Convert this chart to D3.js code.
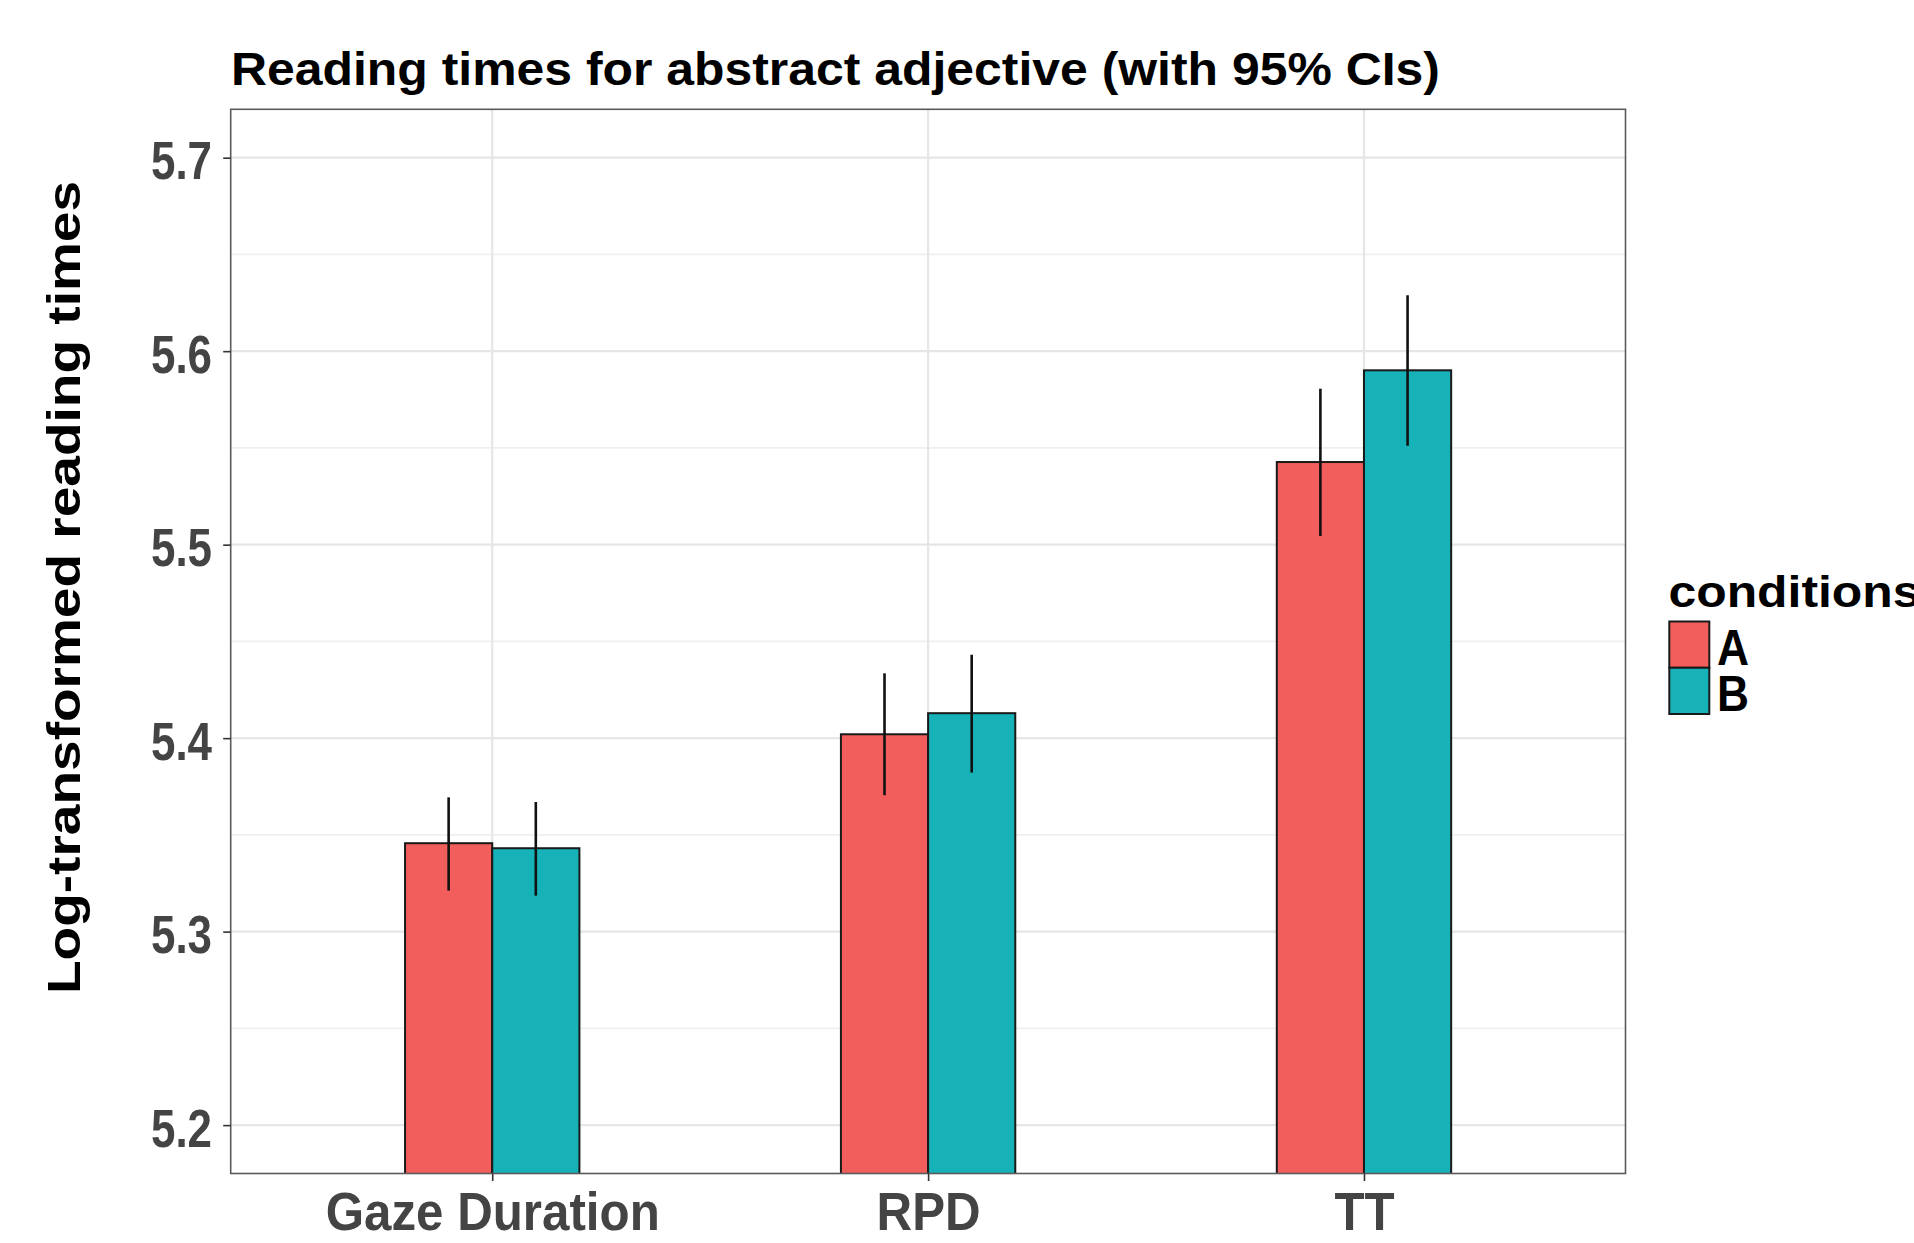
<!DOCTYPE html>
<html>
<head>
<meta charset="utf-8">
<script src="https://cdn.jsdelivr.net/npm/d3@7"></script>
<style>
  html, body { margin: 0; padding: 0; background: #fff; }
  svg { display: block; }
</style>
</head>
<body>
<svg id="chart" width="1914" height="1243"></svg>
<script>
// ---- data ----
const categories = ["Gaze Duration", "RPD", "TT"];
const conditions = ["A", "B"];
const meansA = [5.3457, 5.4020, 5.5427];
const meansB = [5.3431, 5.4129, 5.5901];
const lowerA = [5.3212, 5.3705, 5.5045];
const upperA = [5.3694, 5.4335, 5.5806];
const lowerB = [5.3186, 5.3822, 5.5511];
const upperB = [5.3670, 5.4431, 5.6289];
const yTicks = [5.2, 5.3, 5.4, 5.5, 5.6, 5.7];
const yMinorTicks = [5.25, 5.35, 5.45, 5.55, 5.65];
const titleText = "Reading times for abstract adjective (with 95% CIs)";
const yTitleText = "Log-transformed reading times";
const legendTitleText = "conditions";
const colors = ["#F25E5B", "#17B2B7"];

// ---- layout ----
const FONT = "'Liberation Sans', Arial, Helvetica, sans-serif";
const panel = { left: 230.7, right: 1625.5, top: 109.3, bottom: 1173.5 };
const svg = d3.select("#chart");

const x = d3.scalePoint().domain(categories).range([panel.left, panel.right]).padding(0.6);
const step = x.step();
const xInner = d3.scaleBand().domain(conditions).range([-0.2 * step, 0.2 * step]).padding(0);
const y = d3.scaleLinear().domain([5.175, 5.725]).range([panel.bottom, panel.top]);

// text fitting helpers (canvas measurements)
const ctx = document.createElement("canvas").getContext("2d");
function metrics(str, size) {
  ctx.font = `bold ${size}px ${FONT}`;
  return ctx.measureText(str);
}
const capRatio = metrics("H", 100).actualBoundingBoxAscent / 100;
const xRatio = metrics("x", 100).actualBoundingBoxAscent / 100;
function fitCap(str, capH, width) {
  const F = capH / capRatio;
  const w = metrics(str, F).width;
  return { F, sx: width / w };
}

const data = [];
categories.forEach((c, i) => {
  data.push({ cat: c, cond: "A", v: meansA[i], lo: lowerA[i], hi: upperA[i], col: colors[0] });
  data.push({ cat: c, cond: "B", v: meansB[i], lo: lowerB[i], hi: upperB[i], col: colors[1] });
});

// ---- panel background & grid ----
svg.append("rect").attr("x", panel.left).attr("y", panel.top)
  .attr("width", panel.right - panel.left).attr("height", panel.bottom - panel.top)
  .attr("fill", "#fff");

const grid = svg.append("g");
grid.selectAll("line.minor").data(yMinorTicks).join("line")
  .attr("x1", panel.left).attr("x2", panel.right)
  .attr("y1", d => y(d)).attr("y2", d => y(d))
  .attr("stroke", "#EFEFEF").attr("stroke-width", 1.6);
grid.selectAll("line.major").data(yTicks).join("line")
  .attr("x1", panel.left).attr("x2", panel.right)
  .attr("y1", d => y(d)).attr("y2", d => y(d))
  .attr("stroke", "#E6E6E6").attr("stroke-width", 2.2);
grid.selectAll("line.vmajor").data(categories).join("line")
  .attr("y1", panel.top).attr("y2", panel.bottom)
  .attr("x1", d => x(d)).attr("x2", d => x(d))
  .attr("stroke", "#E6E6E6").attr("stroke-width", 2.2);

// ---- bars ----
svg.append("clipPath").attr("id", "pclip").append("rect")
  .attr("x", panel.left).attr("y", panel.top)
  .attr("width", panel.right - panel.left).attr("height", panel.bottom - panel.top);

const plot = svg.append("g").attr("clip-path", "url(#pclip)");
plot.selectAll("rect.bar").data(data).join("rect")
  .attr("class", "bar")
  .attr("x", d => x(d.cat) + xInner(d.cond))
  .attr("width", xInner.bandwidth())
  .attr("y", d => y(d.v))
  .attr("height", d => panel.bottom + 10 - y(d.v))
  .attr("fill", d => d.col)
  .attr("stroke", "#1a1a1a").attr("stroke-width", 2);

plot.selectAll("line.err").data(data).join("line")
  .attr("class", "err")
  .attr("x1", d => x(d.cat) + xInner(d.cond) + xInner.bandwidth() / 2)
  .attr("x2", d => x(d.cat) + xInner(d.cond) + xInner.bandwidth() / 2)
  .attr("y1", d => y(d.lo)).attr("y2", d => y(d.hi))
  .attr("stroke", "#111").attr("stroke-width", 2.6);

// ---- panel border ----
svg.append("rect").attr("x", panel.left).attr("y", panel.top)
  .attr("width", panel.right - panel.left).attr("height", panel.bottom - panel.top)
  .attr("fill", "none").attr("stroke", "#5a5a5a").attr("stroke-width", 1.6);

// ---- axes ----
const yFit = fitCap("5.7", 37.8, 61);
const yAxis = svg.append("g").attr("transform", `translate(${panel.left},0)`)
  .call(d3.axisLeft(y).tickValues(yTicks).tickSize(7.5).tickFormat(d3.format(".1f")));
yAxis.select(".domain").remove();
yAxis.selectAll(".tick line").attr("stroke", "#333").attr("stroke-width", 1.6);
yAxis.selectAll(".tick text")
  .attr("x", 0).attr("dy", null).attr("y", 0)
  .attr("text-anchor", "end")
  .attr("transform", `translate(-18.7,21) scale(${yFit.sx},1)`)
  .style("font-family", FONT).style("font-weight", "bold")
  .style("font-size", yFit.F + "px").attr("fill", "#444");

const xFit = fitCap("Gaze Duration", 37.5, 334);
const xAxis = svg.append("g").attr("transform", `translate(0,${panel.bottom})`)
  .call(d3.axisBottom(x).tickSize(7.5));
xAxis.select(".domain").remove();
xAxis.selectAll(".tick line").attr("stroke", "#333").attr("stroke-width", 1.6);
xAxis.selectAll(".tick text")
  .attr("x", 0).attr("dy", null).attr("y", 0)
  .attr("text-anchor", "middle")
  .attr("transform", `translate(0,56) scale(${xFit.sx},1)`)
  .style("font-family", FONT).style("font-weight", "bold")
  .style("font-size", xFit.F + "px").attr("fill", "#444");

// ---- title ----
const tFit = fitCap(titleText, 32, 1209);
svg.append("text")
  .attr("transform", `translate(231,85) scale(${tFit.sx},1)`)
  .style("font-family", FONT).style("font-weight", "bold")
  .style("font-size", tFit.F + "px").attr("fill", "#000")
  .text(titleText);

// ---- y axis title ----
const ytFit = fitCap(yTitleText, 33, 813);
svg.append("text")
  .attr("transform", `translate(80,587.5) rotate(-90) scale(${ytFit.sx},1)`)
  .attr("text-anchor", "middle")
  .style("font-family", FONT).style("font-weight", "bold")
  .style("font-size", ytFit.F + "px").attr("fill", "#000")
  .text(yTitleText);

// ---- legend ----
const legF = 24 / xRatio;
const legSx = 252 / metrics(legendTitleText, legF).width;
const legend = svg.append("g");
legend.append("text")
  .attr("transform", `translate(1668.5,606.5) scale(${legSx},1)`)
  .style("font-family", FONT).style("font-weight", "bold")
  .style("font-size", legF + "px").attr("fill", "#000")
  .text(legendTitleText);

const keyY = d3.scaleBand().domain(conditions).range([621.5, 714]).padding(0);
const labFit = fitCap("A", 35.5, 32);
conditions.forEach((c, i) => {
  legend.append("rect")
    .attr("x", 1669.3).attr("y", keyY(c))
    .attr("width", 40).attr("height", keyY.bandwidth())
    .attr("fill", colors[i]).attr("stroke", "#1a1a1a").attr("stroke-width", 2);
  legend.append("text")
    .attr("transform", `translate(1717,${keyY(c) + keyY.bandwidth() - 3}) scale(${labFit.sx},1)`)
    .style("font-family", FONT).style("font-weight", "bold")
    .style("font-size", labFit.F + "px").attr("fill", "#000")
    .text(c);
});
</script>
</body>
</html>
